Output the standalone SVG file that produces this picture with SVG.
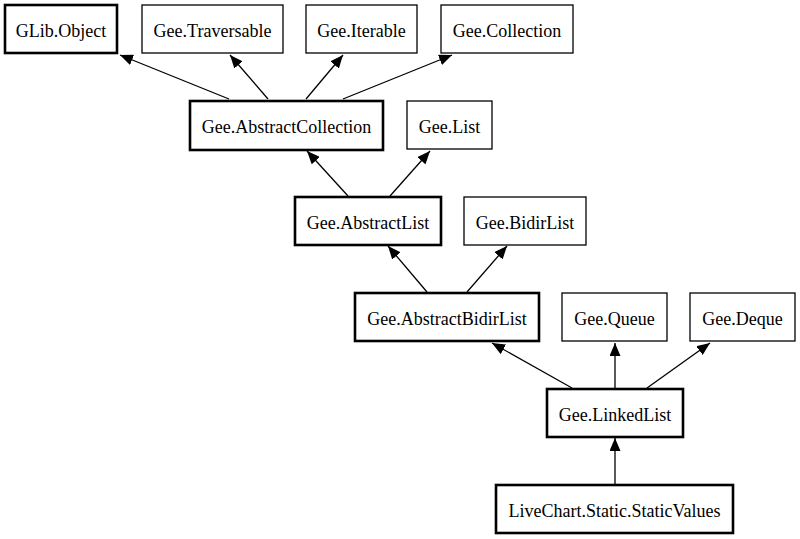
<svg xmlns="http://www.w3.org/2000/svg" width="800" height="539" viewBox="0 0 800 539">
<style>
  .n rect { fill: #fff; stroke: #000; stroke-width: 1.3; }
  .n.b rect { stroke-width: 2.6; }
  .n text { font-family: "Liberation Serif", "Times New Roman", serif; font-size: 18px; text-anchor: middle; fill: #000; }
  #edges line { stroke: #000; stroke-width: 1.3; marker-end: url(#arr); }
</style>
<defs>
  <marker id="arr" viewBox="0 0 13 11" refX="13" refY="5.5" markerWidth="13" markerHeight="11" markerUnits="userSpaceOnUse" orient="auto">
    <path d="M0,0 L13,5.5 L0,11 z" fill="#000"/>
  </marker>
</defs>
<rect width="800" height="539" fill="#fff"/>
<g id="edges">
  <line x1="229" y1="99" x2="120" y2="55"/>
  <line x1="268" y1="99" x2="230" y2="55"/>
  <line x1="306" y1="99" x2="343" y2="55"/>
  <line x1="343" y1="99" x2="452" y2="55"/>
  <line x1="348" y1="196" x2="307" y2="151"/>
  <line x1="390" y1="196" x2="430" y2="151"/>
  <line x1="427" y1="292" x2="388" y2="246"/>
  <line x1="467" y1="292" x2="507" y2="246"/>
  <line x1="572" y1="388" x2="492" y2="343"/>
  <line x1="615" y1="388" x2="615" y2="343"/>
  <line x1="647" y1="388" x2="710" y2="343"/>
  <line x1="615" y1="484" x2="615" y2="438"/>
</g>
<g id="glib-object" class="n b"><rect x="5" y="5" width="112" height="48"/><text x="61" y="37">GLib.Object</text></g>
<g id="gee-traversable" class="n"><rect x="142" y="5" width="141" height="48"/><text x="212.5" y="37">Gee.Traversable</text></g>
<g id="gee-iterable" class="n"><rect x="306" y="5" width="111" height="48"/><text x="361.5" y="37">Gee.Iterable</text></g>
<g id="gee-collection" class="n"><rect x="441" y="5" width="132" height="48"/><text x="507" y="37">Gee.Collection</text></g>
<g id="gee-abstractcollection" class="n b"><rect x="190" y="101" width="193" height="49"/><text x="286.5" y="133">Gee.AbstractCollection</text></g>
<g id="gee-list" class="n"><rect x="407" y="101" width="85" height="48"/><text x="449.5" y="133">Gee.List</text></g>
<g id="gee-abstractlist" class="n b"><rect x="295" y="197" width="146" height="48"/><text x="368" y="229">Gee.AbstractList</text></g>
<g id="gee-bidirlist" class="n"><rect x="464" y="197" width="122" height="48"/><text x="525" y="229">Gee.BidirList</text></g>
<g id="gee-abstractbidirlist" class="n b"><rect x="355" y="293" width="184" height="48"/><text x="447" y="325">Gee.AbstractBidirList</text></g>
<g id="gee-queue" class="n"><rect x="562" y="293" width="105" height="48"/><text x="614.5" y="325">Gee.Queue</text></g>
<g id="gee-deque" class="n"><rect x="690" y="293" width="105" height="48"/><text x="742.5" y="325">Gee.Deque</text></g>
<g id="gee-linkedlist" class="n b"><rect x="547" y="389" width="136" height="48"/><text x="615" y="421">Gee.LinkedList</text></g>
<g id="livechart-static-staticvalues" class="n b"><rect x="496" y="485" width="237" height="48"/><text x="614.5" y="517">LiveChart.Static.StaticValues</text></g>
</svg>
